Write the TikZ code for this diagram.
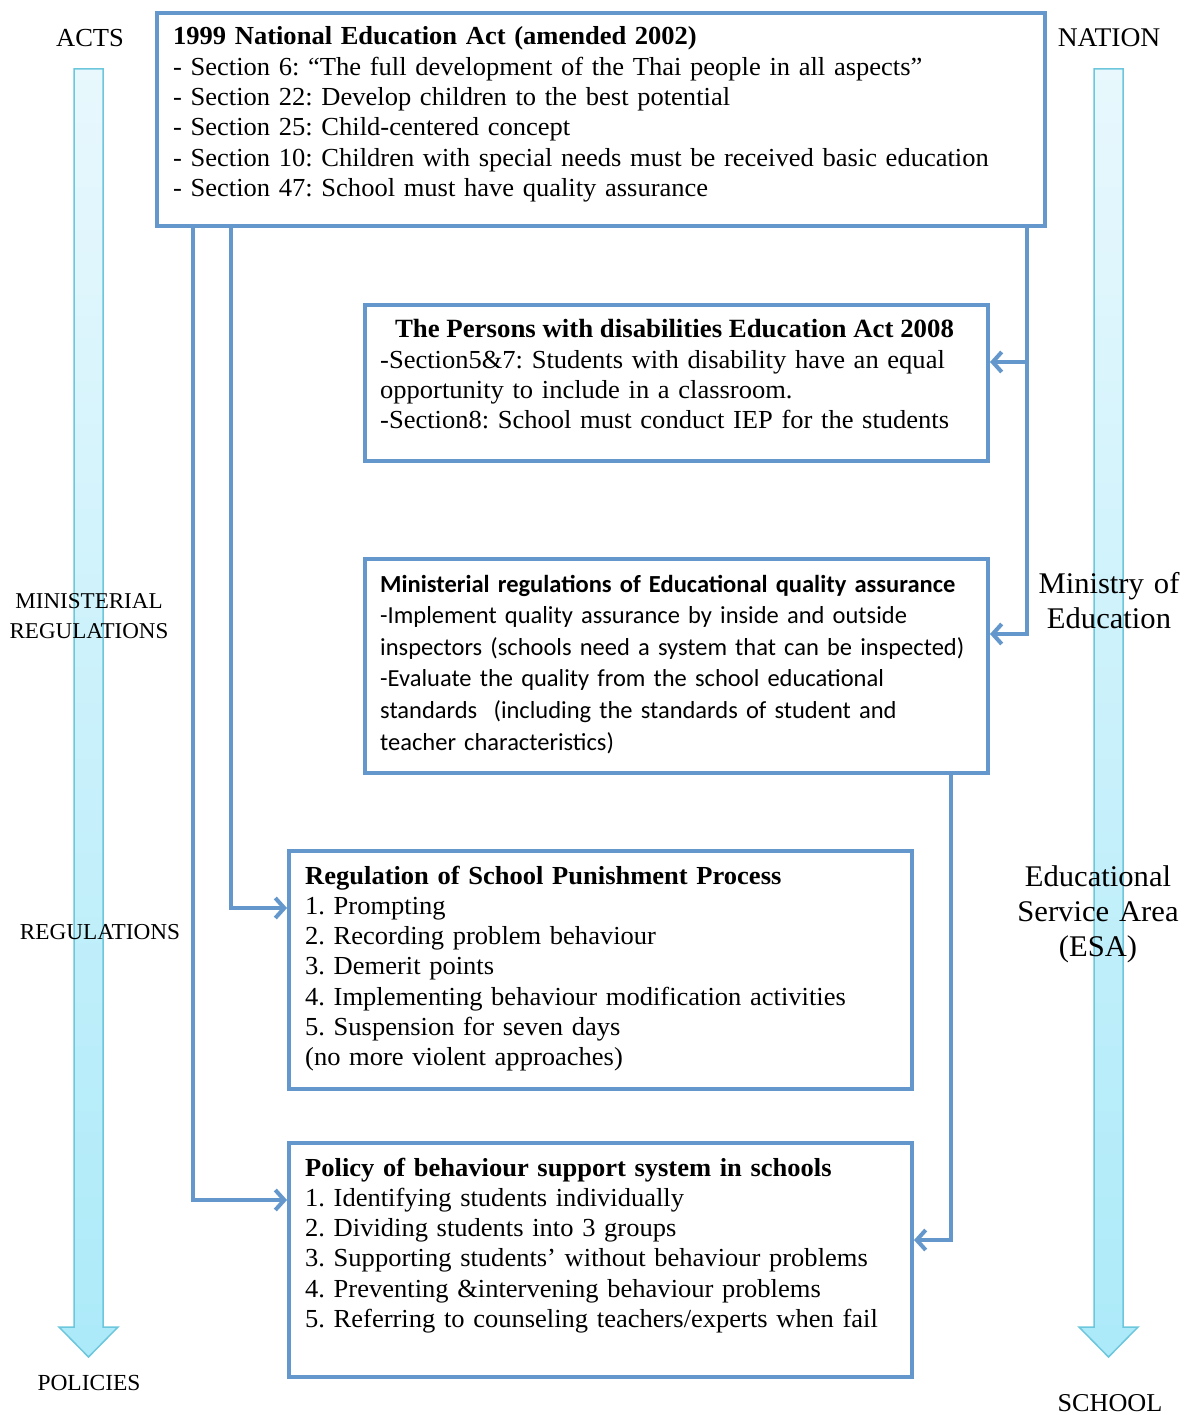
\documentclass[tikz,border=0pt]{standalone}
\usepackage{fontspec}
\setmainfont[FakeStretch=1.02]{Liberation Serif}
\newfontfamily\calfont{Carlito}
\usetikzlibrary{arrows.meta,calc}
\definecolor{boxblue}{HTML}{6497CB}
\definecolor{arrowedge}{HTML}{6CC6DC}
\definecolor{arrowtop}{HTML}{E8F8FD}
\definecolor{arrowbot}{HTML}{ACEAF9}
\begin{document}
\frenchspacing
\begin{tikzpicture}[x=1pt,y=-1pt,
  box/.style={draw=boxblue,line width=4pt,fill=white,anchor=north west,inner sep=0pt},
  txt/.style={anchor=base west,inner sep=0pt,align=left,text width=1000pt,font=\fontsize{26}{30.3}\selectfont},
  caltxt/.style={anchor=base west,inner sep=0pt,align=left,text width=1000pt,font=\calfont\fontsize{24.5}{31.6}\selectfont},
  side/.style={anchor=base,inner sep=0pt,align=center,text width=300pt,font=\fontsize{#1}{#1}\selectfont},
  conn/.style={draw=boxblue,line width=4pt,-{Straight Barb[length=9pt,width=20pt]}},
  bigarrow/.style={draw=arrowedge,line width=1.5pt,top color=arrowtop,bottom color=arrowbot}
]
\useasboundingbox (0,0) rectangle (1188,1415);

% big vertical arrows
\path[bigarrow] (74,69) -- (103,69) -- (103,1327) -- (118,1327) -- (88.5,1357) -- (59,1327) -- (74,1327) -- cycle;
\path[bigarrow] (1094,69) -- (1123,69) -- (1123,1327) -- (1138,1327) -- (1108.5,1357) -- (1079,1327) -- (1094,1327) -- cycle;

% side labels
\node[side=26] (acts) at (90,47) {ACTS};
\node[side=27] (nation) at (1109,47) {NATION};
\node[side=22.6,font=\fontsize{22.6}{30.5}\selectfont] (minreg) at (89,608) {MINISTERIAL\\REGULATIONS};
\node[side=22.8] (reg) at (100,939) {REGULATIONS};
\node[side=23] (pol) at (89,1390) {POLICIES};
\node[side=25.7] (school) at (1110,1411) {SCHOOL};
\node[side=30,font=\fontsize{30}{35}\selectfont] (moe) at (1109,593) {Ministry of\\Education};
\node[side=30,font=\fontsize{30}{35}\selectfont] (esa) at (1098,886) {Educational\\Service Area\\(ESA)};

% boxes
\node[box,minimum width=888pt,minimum height=213pt] (act) at (155,11) {};
\node[box,minimum width=623pt,minimum height=156pt] (pwd) at (363,303) {};
\node[box,minimum width=623pt,minimum height=214pt] (qa) at (363,557) {};
\node[box,minimum width=623pt,minimum height=238pt] (punish) at (287,849) {};
\node[box,minimum width=623pt,minimum height=234pt] (policy) at (287,1141) {};

% texts
\node[txt] (acttxt) at (173,45) {\textbf{1999 National Education Act (amended 2002)}\\
- Section 6: “The full development of the Thai people in all aspects”\\
- Section 22: Develop children to the best potential\\
- Section 25: Child-centered concept\\
- Section 10: Children with special needs must be received basic education\\
- Section 47: School must have quality assurance};

\node[anchor=base,inner sep=0pt,font=\fontsize{26.3}{30.3}\selectfont\bfseries] (pwdhead) at (674.5,337) {The Persons with disabilities Education Act 2008};
\node[txt] (pwdtxt) at (380,368) {-Section5\&7: Students with disability have an equal\\
opportunity to include in a classroom.\\
-Section8: School must conduct IEP for the students};

\node[caltxt] (qatxt) at (380,592) {\textbf{Ministerial regulations of Educational quality assurance}\\
-Implement quality assurance by inside and outside\\
inspectors (schools need a system that can be inspected)\\
-Evaluate the quality from the school educational\\
standards\ \ (including the standards of student and\\
teacher characteristics)};

\node[txt] (punishtxt) at (305,884) {\textbf{Regulation of School Punishment Process}\\
1. Prompting\\
2. Recording problem behaviour\\
3. Demerit points\\
4. Implementing behaviour modification activities\\
5. Suspension for seven days\\
(no more violent approaches)};

\node[txt] (policytxt) at (305,1176) {\textbf{Policy of behaviour support system in schools}\\
1. Identifying students individually\\
2. Dividing students into 3 groups\\
3. Supporting students’ without behaviour problems\\
4. Preventing \&intervening behaviour problems\\
5. Referring to counseling teachers/experts when fail};

% connectors
\coordinate (sA) at ($(act.south west)+(38,0)$);
\coordinate (sB) at ($(act.south west)+(76,0)$);
\coordinate (sC) at ($(act.south east)+(-20,0)$);
\coordinate (sD) at ($(qa.south east)+(-39,0)$);
\coordinate (tPol) at ($(policy.north west)+(0,59)$);
\coordinate (tPun) at ($(punish.north west)+(0,59)$);
\coordinate (tPwd) at ($(pwd.north east)+(0,59)$);
\coordinate (tQa) at ($(qa.north east)+(0,77)$);
\coordinate (tPolR) at ($(policy.north east)+(0,99)$);

\draw[conn] (sA) |- (tPol);
\draw[conn] (sB) |- (tPun);
\draw[conn] (sC) |- (tQa);
\draw[conn] (sC |- tPwd) -- (tPwd);
\draw[conn] (sD) |- (tPolR);
\end{tikzpicture}
\end{document}
